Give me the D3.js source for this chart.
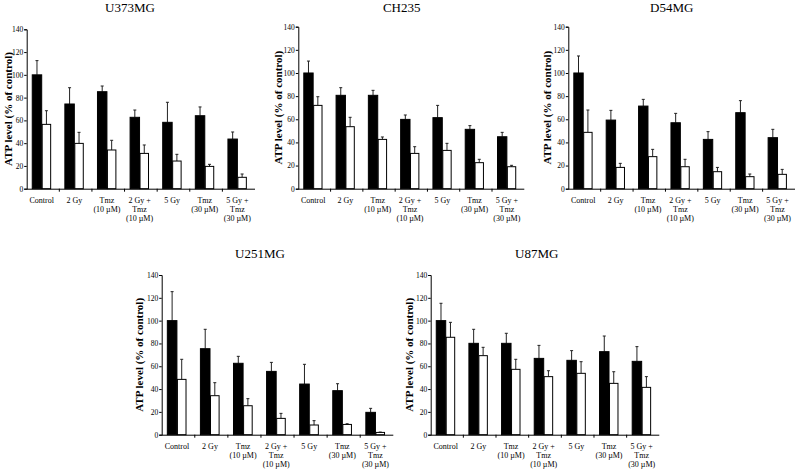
<!DOCTYPE html>
<html><head><meta charset="utf-8">
<script src="https://cdn.jsdelivr.net/npm/d3@7"></script>
<style>body{margin:0;background:#fff}svg{display:block}text{font-family:"Liberation Serif","Times New Roman",serif;fill:#000}</style>
</head><body><svg id="c" width="800" height="473"></svg>
<script>
const categories = [["Control"],["2 Gy"],["Tmz","(10 µM)"],["2 Gy +","Tmz","(10 µM)"],["5 Gy"],["Tmz","(30 µM)"],["5 Gy +","Tmz","(30 µM)"]];
const yTicks = [0,20,40,60,80,100,120,140];
const yLabel = "ATP level (% of control)";
const cellLines = ["U373MG","CH235","D54MG","U251MG","U87MG"];
// black series mean / error, white series mean / error
const blackMean = [
  [100,74.4,85.2,62.7,58.3,64.1,43.6],
  [100,80.7,80.7,59.9,61.4,51.3,44.9],
  [100,59.3,71.4,57,42.6,65.7,44.1],
  [100,75.4,62.6,55.5,44.4,38.6,19.6],
  [100,80.1,80.1,66.9,65.2,72.8,64.3]];
const blackErr = [
  [12.5,14.3,5,6.4,17.6,7.7,6.2],
  [10.3,6.6,4.3,3.8,10.6,3.2,3.8],
  [14.7,8.4,5.8,8.1,6.7,10.4,7.2],
  [25.4,17,6.1,7.9,17.3,6.1,3.5],
  [15.2,12.3,8.8,11.4,8.5,13.7,12.9]];
const whiteMean = [
  [56.5,39.8,34,31,24.3,19.6,10],
  [72,53.6,42.6,30.5,33.1,22.5,19],
  [48.7,18.4,27.7,19,14.7,10.4,12.4],
  [48.5,34.2,25.4,14.3,8.5,9,2],
  [85.4,69.3,57.3,50.9,53.8,45,41.5]];
const whiteErr = [
  [12,9.7,8.5,7.4,5.9,1.8,2.9],
  [7.5,8.1,2.1,5.8,6.1,2.9,1.2],
  [19.3,3.5,6.3,6.4,3.7,2.3,4.3],
  [17.6,11.4,6.2,4.4,3.8,0.6,0.3],
  [13.1,7.3,8.8,5.2,10.2,10.2,9.4]];

const layout = [
  {x0:26.7, x1:255,   yT:29.3, yB:188.7, tx:130,   ty:11.5, ld:-17},
  {x0:298.3,x1:524.3, yT:26.7, yB:188.7, tx:401.7, ty:11.5, ld:-18.5},
  {x0:568.3,x1:795,   yT:26.7, yB:188.7, tx:671.7, ty:11.5, ld:-19.5},
  {x0:161.7,x1:393.3, yT:275,  yB:434.7, tx:260,   ty:257.5, ld:-21.5},
  {x0:430.7,x1:659.3, yT:275,  yB:434.7, tx:536.7, ty:257.5, ld:-20}];

const svg = d3.select("#c");
cellLines.forEach((name,p)=>{
  const L = layout[p];
  const g = svg.append("g");
  const x = d3.scaleBand().domain(d3.range(categories.length)).range([L.x0, L.x1]);
  const bw = x.bandwidth();
  const xi = d3.scaleBand().domain(["b","w"]).range([bw*0.17, bw*0.75]);
  const y = d3.scaleLinear().domain([0,140]).range([L.yB, L.yT]);

  g.append("text").attr("x",L.tx).attr("y",L.ty).attr("text-anchor","middle")
    .attr("font-size",13).text(name);

  const yAx = g.append("g").attr("transform",`translate(${L.x0},0)`)
    .call(d3.axisLeft(y).tickValues(yTicks).tickSize(2.5).tickPadding(1));
  yAx.select(".domain").attr("stroke","#000");
  yAx.selectAll("text").attr("font-size",7.5).attr("font-family","Liberation Serif");

  g.append("text").attr("transform",`translate(${L.x0+L.ld},${(L.yT+L.yB)/2}) rotate(-90)`)
    .attr("text-anchor","middle").attr("dominant-baseline","middle")
    .attr("font-size",11).attr("font-weight","bold").text(yLabel);

  const series = [
    {k:"b", mean:blackMean[p], err:blackErr[p], fill:"#000"},
    {k:"w", mean:whiteMean[p], err:whiteErr[p], fill:"#fff"}];
  series.forEach(s=>{
    const gg = g.append("g");
    const cx = i => x(i)+xi(s.k)+xi.bandwidth()/2;
    gg.selectAll("line.e").data(s.mean).join("line")
      .attr("x1",(d,i)=>cx(i)).attr("x2",(d,i)=>cx(i))
      .attr("y1",d=>y(d)).attr("y2",(d,i)=>y(d+s.err[i])).attr("stroke","#222").attr("stroke-width",1);
    gg.selectAll("line.c").data(s.mean).join("line")
      .attr("x1",(d,i)=>cx(i)-1.5).attr("x2",(d,i)=>cx(i)+1.5)
      .attr("y1",(d,i)=>y(d+s.err[i])).attr("y2",(d,i)=>y(d+s.err[i])).attr("stroke","#222").attr("stroke-width",1);
    gg.selectAll("rect").data(s.mean).join("rect")
      .attr("x",(d,i)=>x(i)+xi(s.k)+(s.k==="w"?0.5:0)).attr("width",xi.bandwidth()-(s.k==="w"?1:0))
      .attr("y",d=>y(d)).attr("height",d=>L.yB-y(d))
      .attr("fill",s.fill).attr("stroke","#000").attr("stroke-width",1);
  });

  g.append("line").attr("x1",L.x0).attr("x2",L.x1).attr("y1",L.yB+0.5).attr("y2",L.yB+0.5).attr("stroke","#000");
  g.selectAll("line.t").data(d3.range(1,categories.length)).join("line")
    .attr("x1",i=>x(i)).attr("x2",i=>x(i)).attr("y1",L.yB).attr("y2",L.yB+3).attr("stroke","#000");
  categories.forEach((lines,i)=>{
    const t = g.append("text").attr("x",x(i)+bw*0.46).attr("y",L.yB+14)
      .attr("text-anchor","middle").attr("font-size",8);
    lines.forEach((ln,j)=>t.append("tspan").attr("x",x(i)+bw*0.46).attr("dy",j?9:0).text(ln));
  });
});
</script></body></html>
